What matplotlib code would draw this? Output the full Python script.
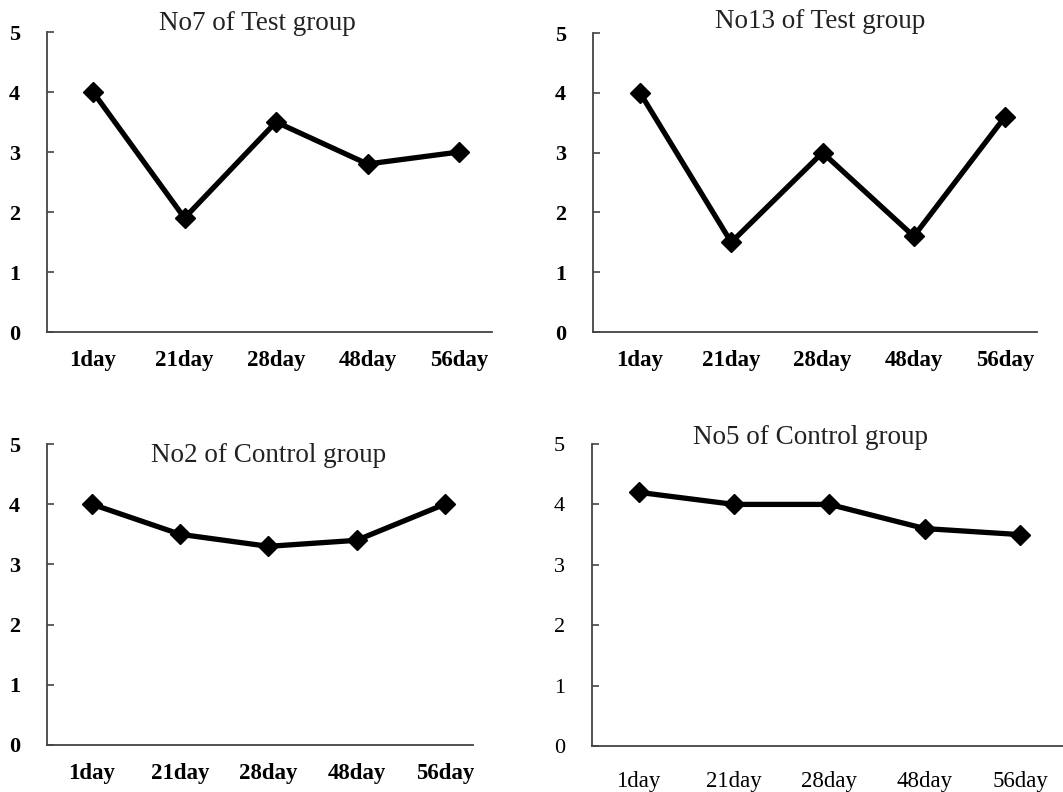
import numpy as np
import matplotlib.pyplot as plt

days = ['1day', '21day', '28day', '48day', '56day']

no7_test = [4.0, 1.9, 3.5, 2.8, 3.0]
no13_test = [4.0, 1.5, 3.0, 1.6, 3.6]
no2_control = [4.0, 3.5, 3.3, 3.4, 4.0]
no5_control = [4.2, 4.0, 4.0, 3.6, 3.5]

titles = ['No7 of Test group', 'No13 of Test group',
          'No2 of Control group', 'No5 of Control group']

W, H = 1063, 792
fig = plt.figure(figsize=(W / 100, H / 100), dpi=100)

# (left, right, top, bottom) in pixels, xlim, title pos, label pad, bold labels
panels = [
    (no7_test, (47, 492, 32, 332), (-0.503, 4.36), (0.472, 1.03), 13, 'bold'),
    (no13_test, (593, 1037, 33, 332), (-0.515, 4.35), (0.511, 1.037), 13, 'bold'),
    (no2_control, (47, 473, 444, 745), (-0.51, 4.32), (0.519, 0.963), 13, 'bold'),
    (no5_control, (592, 1063, 444, 746), (-0.49, 4.45), (0.463, 1.023), 18, 'normal'),
]

serif = ['Liberation Serif', 'DejaVu Serif']

for (vals, box, xlim, tpos, xpad, weight), title in zip(panels, titles):
    l, r, t, b = box
    ax = fig.add_axes([l / W, (H - b) / H, (r - l) / W, (b - t) / H])
    x = np.arange(len(days))
    ax.plot(x, vals, color='black', linewidth=3.8, marker='D',
            markersize=10.5, clip_on=False, zorder=3)
    ax.set_xlim(*xlim)
    ax.set_ylim(0, 5)
    ax.set_yticks(range(6))
    ax.set_xticks(x)
    ax.set_xticklabels(days, family=serif, fontsize=16.5, fontweight=weight)
    ax.set_yticklabels([str(i) for i in range(6)], family=serif,
                       fontsize=16, fontweight=weight)
    for s in ['top', 'right']:
        ax.spines[s].set_visible(False)
    for s in ['left', 'bottom']:
        ax.spines[s].set_color('#444444')
        ax.spines[s].set_linewidth(1.3)
    ax.tick_params(axis='y', direction='in', length=5, width=1.2,
                   color='#444444', pad=19.5)
    ax.tick_params(axis='x', length=0, pad=xpad)
    ax.text(tpos[0], tpos[1], title, transform=ax.transAxes, ha='center',
            va='center', family=serif, fontsize=19.5, color='#222222')

fig.savefig('out.png', dpi=100)
